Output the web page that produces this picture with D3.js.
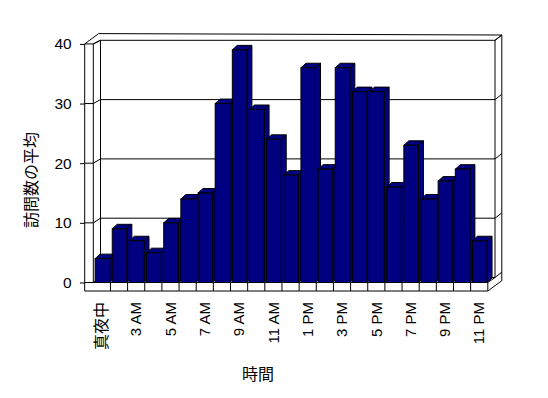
<!DOCTYPE html>
<html><head><meta charset="utf-8">
<script src="https://cdn.jsdelivr.net/npm/d3@7"></script>
<style>
body{margin:0;background:#fff;}
svg{display:block;}
text{font-family:"Liberation Sans","Noto Sans CJK JP",sans-serif;fill:#000;}
</style></head>
<body>
<svg id="chart" width="548" height="398"></svg>
<script>
// ---- data ----
const categories = ["真夜中","1 AM","3 AM","4 AM","5 AM","6 AM","7 AM","8 AM","9 AM","10 AM","11 AM","正午",
  "1 PM","2 PM","3 PM","4 PM","5 PM","6 PM","7 PM","8 PM","9 PM","10 PM","11 PM"];
const visits = [4,9,7,5,10,14,15,30,39,29,24,18,36,19,36,32,32,16,23,14,17,19,7];
const yTicks = [0,10,20,30,40];
const xAxisTitle = "時間";
const yAxisTitle = "訪問数の平均";

// ---- geometry ----
const svg = d3.select("#chart");
const FL = 84.7, FI = 93.3, FR = 487.8;          // front outer-left, inner-left, right
const d1 = [7.2, -5.0];                           // floor depth
const d2 = [6.8, -5.3];                           // back wall thickness
const floorBottom = 291;
const barDepth = [5, -4.5];
const navy = "#000080";

const x = d3.scaleBand().domain(categories).range([FI, FR]).paddingInner(0).paddingOuter(0);
const yF = d3.scaleLinear().domain([0, 40]).range([282.5, 43.9]);   // front plane
const yB = d3.scaleLinear().domain([0, 40]).range([277.5, 40.3]);   // back wall

const BL = FI + d1[0], BR = FR + d1[0];          // back wall inner left/right
const OR = BR + d2[0];                           // outer right

const g = svg.append("g").attr("fill", "none").attr("stroke", "#000").attr("stroke-width", 1);
const line = (pts) => g.append("path").attr("d", d3.line()(pts));

// back wall: top edge (outer) and right side
line([[FL, yF(40)], [FL + d1[0] + d2[0], yF(40) + d1[1] + d2[1]], [OR, yB(40) + d2[1]], [OR, floorBottom + d1[1] + d2[1]]]);
line([[BR, yB(40)], [OR, yB(40) + d2[1]]]);
line([[BR, yB(40)], [BR, yB(0)]]);
// left wall
line([[FL, yF(40)], [FL, floorBottom]]);
line([[FI, yF(40)], [FI, yF(0)]]);
line([[BL, yB(40)], [BL, yB(0)]]);
line([[FI, yF(40)], [BL, yB(40)]]);
// floor front face and right side
line([[FL, floorBottom], [FR, floorBottom], [FR, yF(0)], [FI, yF(0)]]);
line([[FR, floorBottom], [OR, floorBottom + d1[1] + d2[1]]]);
line([[FR, yF(0)], [BR, yB(0)]]);
categories.slice(1).forEach(c => line([[x(c), yF(0)], [x(c), floorBottom]]));

// gridlines
yTicks.forEach(v => {
  line([[BL, yB(v)], [BR, yB(v)]]);
  line([[FI, yF(v)], [BL, yB(v)]]);
  line([[FL, yF(v)], [FI, yF(v)]]);
  line([[BR, yB(v)], [OR, yB(v) + d2[1]]]);
});

// y axis (labels + outer ticks)
const yAxis = svg.append("g").attr("transform", `translate(${FL},0)`)
  .call(d3.axisLeft(yF).tickValues(yTicks).tickSize(4.7).tickPadding(8.3).tickFormat(d3.format("d")));
yAxis.select(".domain").remove();
yAxis.selectAll("line").attr("stroke", "#000");
yAxis.selectAll("text").attr("fill", "#000").style("font-size", "15.5px").style("font-family", '"Liberation Sans",sans-serif');

// bars
const bw = 14.6, bo = 1.8;
const bars = svg.append("g").selectAll("g").data(visits).join("g");
bars.each(function(v, i) {
  const gx = d3.select(this);
  const x0 = x(categories[i]) + bo, x1 = x0 + bw;
  const yt = yF(v), yb = yF(0);
  const [dx, dy] = barDepth;
  gx.append("path").attr("d", d3.line()([[x1, yb], [x1, yt], [x1 + dx, yt + dy], [x1 + dx, yb + dy]]) + "Z")
    .attr("fill", navy).attr("stroke", "#000");
  gx.append("path").attr("d", d3.line()([[x0, yt], [x1, yt], [x1 + dx, yt + dy], [x0 + dx, yt + dy]]) + "Z")
    .attr("fill", navy).attr("stroke", "#000");
  gx.append("rect").attr("x", x0).attr("y", yt).attr("width", bw).attr("height", yb - yt)
    .attr("fill", navy).attr("stroke", "#000");
});

// x axis labels
const xAxis = svg.append("g").attr("transform", `translate(0,${floorBottom})`)
  .call(d3.axisBottom(x).tickValues(categories.filter((c, i) => i % 2 === 0)).tickSize(0).tickPadding(0));
xAxis.select(".domain").remove();
xAxis.selectAll("text")
  .attr("fill", "#000")
  .attr("text-anchor", "end").attr("y", null)
  .attr("transform", "translate(0,11) rotate(-90)").attr("dy", "0.35em")
  .style("font-size", d => /[\u3000-\u9fff]/.test(d) ? "16px" : "15px")
  .style("font-family", d => /[\u3000-\u9fff]/.test(d) ? '"Noto Sans CJK JP",sans-serif' : '"Liberation Sans Narrow","Liberation Sans",sans-serif');

// titles
svg.append("text").attr("x", 258).attr("y", 380).attr("text-anchor", "middle").attr("fill", "#000")
  .style("font-size", "16px").style("font-family", '"Noto Sans CJK JP",sans-serif').text(xAxisTitle);
svg.append("text").attr("transform", "translate(31,180) rotate(-90)").attr("text-anchor", "middle").attr("dy", "0.35em")
  .attr("fill", "#000")
  .style("font-size", "16px").style("font-family", '"Noto Sans CJK JP",sans-serif').text(yAxisTitle);
</script>
</body></html>
